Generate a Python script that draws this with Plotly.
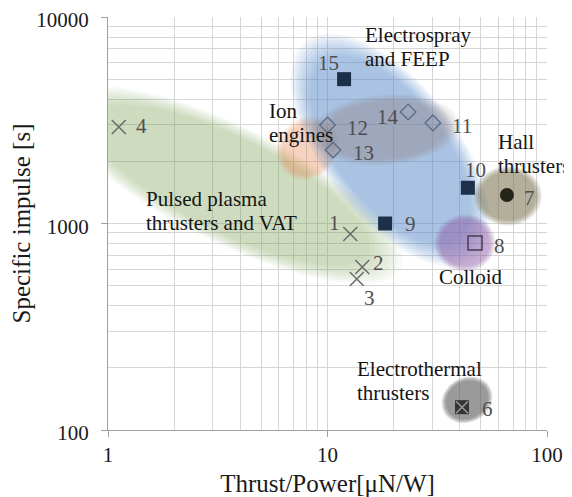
import numpy as np
import plotly.graph_objects as go

# ---------------------------------------------------------------------------
# data: thrust/power [uN/W], specific impulse [s]
cross_id = ['1', '2', '3', '4']
cross_x = [12.7, 14.4, 13.6, 1.12]
cross_y = [890, 616, 539, 2935]

sq_id = ['9', '10', '15']
sq_x = [18.3, 43.6, 11.9]
sq_y = [1000, 1490, 5000]

dia_id = ['11', '12', '13', '14']
dia_x = [30.2, 10.0, 10.6, 23.3]
dia_y = [3070, 3000, 2270, 3470]

hall_id = ['7']
hall_x = [65.7]
hall_y = [1375]

colloid_id = ['8']
colloid_x = [47.0]
colloid_y = [805]

et_id = ['6']
et_x = [41.0]
et_y = [129]

# shaded regions: centre (data units), semi axes (decades), tilt (deg)
blob_cx = [3.6, 8.15, 19.3, 18.3, 42.3, 66.4, 43.2]
blob_cy = [1536, 2320, 2270, 2840, 805, 1360, 140]
blob_a = [0.82, 0.15, 0.61, 0.32, 0.13, 0.145, 0.115]
blob_b = [0.26, 0.13, 0.29, 0.16, 0.13, 0.135, 0.10]
blob_ang = [-28, 60, -55, 5, 0, 0, 40]
blob_rgb = ['110,160,80', '225,130,70', '70,130,200', '150,130,120',
            '150,100,170', '110,100,60', '90,90,90']
blob_op = [0.35, 0.33, 0.45, 0.36, 0.50, 0.50, 0.60]

# region names and where they sit (left edge, middle)
region_name = ['Pulsed plasma<br>thrusters and VAT', 'Ion<br>engines',
               'Electrospray<br>and FEEP', 'Hall<br>thrusters', 'Colloid',
               'Electrothermal<br>thrusters']
region_x = [1.46, 5.3, 14.5, 58.8, 31.5, 13.3]
region_y = [1156, 3070, 7160, 2170, 551, 172]

#---------------------------------------------------------------------------

FONT = "Times New Roman, Liberation Serif, serif"
FS = 21
GRID = '#d6d6d6'
AXIS = '#a0a0a0'

label_shift = {'1': (-16, 11), '2': (16, 4), '3': (13, -19), '4': (23, 1),
               '6': (25, -2), '7': (23, -3), '8': (24, -3), '9': (25, 0),
               '10': (8, 18), '11': (29, -3), '12': (30, -3), '13': (30, -3),
               '14': (-20, -5), '15': (-16, 16)}


def ellipse(cx, cy, a, b, ang, scale):
    t = np.linspace(0, 2 * np.pi, 90)
    th = np.radians(ang)
    u = a * scale * np.cos(t)
    v = b * scale * np.sin(t)
    lx = np.log10(cx) + u * np.cos(th) - v * np.sin(th)
    ly = np.log10(cy) + u * np.sin(th) + v * np.cos(th)
    return 10 ** lx, 10 ** ly


fig = go.Figure()

# soft edged blobs: stack of shrinking ellipses
n_layers = 8
for i in range(len(blob_cx)):
    alpha = 1 - (1 - blob_op[i]) ** (1 / n_layers)
    for k in range(n_layers):
        s = 1.07 - 0.2 * k / (n_layers - 1)
        ex, ey = ellipse(blob_cx[i], blob_cy[i], blob_a[i], blob_b[i], blob_ang[i], s)
        fig.add_trace(go.Scatter(x=ex, y=ey, mode='lines', fill='toself',
                                 fillcolor=f'rgba({blob_rgb[i]},{alpha:.3f})',
                                 line=dict(width=0), hoverinfo='skip', showlegend=False))

fig.add_trace(go.Scatter(x=cross_x, y=cross_y, mode='markers', showlegend=False,
                         marker=dict(symbol='x-thin', size=14, line=dict(width=1.5, color='#6a6a6a'))))
fig.add_trace(go.Scatter(x=sq_x, y=sq_y, mode='markers', showlegend=False,
                         marker=dict(symbol='square', size=14, color='#1c3049')))
fig.add_trace(go.Scatter(x=dia_x, y=dia_y, mode='markers', showlegend=False,
                         marker=dict(symbol='diamond-open', size=12, color='#5b6f88', line=dict(width=1.4))))
fig.add_trace(go.Scatter(x=hall_x, y=hall_y, mode='markers', showlegend=False,
                         marker=dict(symbol='circle', size=14, color='#26251b')))
fig.add_trace(go.Scatter(x=colloid_x, y=colloid_y, mode='markers', showlegend=False,
                         marker=dict(symbol='square-open', size=14, color='#4b3b5a', line=dict(width=1.5))))
fig.add_trace(go.Scatter(x=et_x, y=et_y, mode='markers', showlegend=False,
                         marker=dict(symbol='square', size=14, color='#353535')))
fig.add_trace(go.Scatter(x=et_x, y=et_y, mode='markers', showlegend=False,
                         marker=dict(symbol='x-thin', size=12, line=dict(width=1.5, color='#9a9a9a'))))

# number labels
annos = []
for ids, xs, ys in [(cross_id, cross_x, cross_y), (sq_id, sq_x, sq_y), (dia_id, dia_x, dia_y),
                    (hall_id, hall_x, hall_y), (colloid_id, colloid_x, colloid_y), (et_id, et_x, et_y)]:
    for n, xv, yv in zip(ids, xs, ys):
        dx, dy = label_shift[n]
        annos.append(dict(x=np.log10(xv), y=np.log10(yv), text=n, showarrow=False,
                          xshift=dx, yshift=dy, font=dict(family=FONT, size=FS, color='#4e4e4e')))

# region names, one annotation per line for tighter leading
for name, xv, yv in zip(region_name, region_x, region_y):
    lines = name.split('<br>')
    for j, line in enumerate(lines):
        annos.append(dict(x=np.log10(xv), y=np.log10(yv), text=line, showarrow=False,
                          xanchor='left', yanchor='middle', yshift=((len(lines) - 1) / 2 - j) * 24,
                          font=dict(family=FONT, size=FS, color='#151515')))

x_minor = [2, 3, 4, 5, 6, 7, 8, 9, 20, 30, 40, 50, 60, 70, 80, 90]
y_minor = [200, 300, 400, 500, 600, 700, 800, 900, 2000, 3000, 4000, 5000, 6000, 7000, 8000, 9000]

# page body adds an 8px margin, so the figure is 8px smaller than the window
fig.update_layout(
    width=564, height=489,
    margin=dict(l=100, r=25, t=9, b=67),
    plot_bgcolor='white', paper_bgcolor='white',
    font=dict(family=FONT, size=FS, color='#1a1a1a'),
    annotations=annos,
)
fig.update_xaxes(type='log', range=[0, 2], tickvals=[1, 10, 100], ticktext=['1', '10', '100'],
                 ticks='outside', ticklen=6, tickcolor=AXIS, showline=True, linecolor=AXIS,
                 showgrid=True, gridcolor=GRID, ticklabelstandoff=0, automargin=False,
                 ticklabeloverflow='allow',
                 minor=dict(tickvals=x_minor, showgrid=True, gridcolor=GRID, ticks=''),
                 title=dict(text='Thrust/Power[μN/W]', standoff=9))
fig.update_yaxes(type='log', range=[2, 4], tickvals=[100, 1000, 10000],
                 ticktext=['100', '1000', '10000'],
                 ticks='outside', ticklen=6, tickcolor=AXIS, showline=True, linecolor=AXIS,
                 showgrid=True, gridcolor=GRID, ticklabelstandoff=8, ticklabelshift=3,
                 automargin=False, ticklabeloverflow='allow',
                 minor=dict(tickvals=y_minor, showgrid=True, gridcolor=GRID, ticks=''),
                 title=dict(text='Specific impulse [s]', standoff=12))

fig.write_html("out.html")
